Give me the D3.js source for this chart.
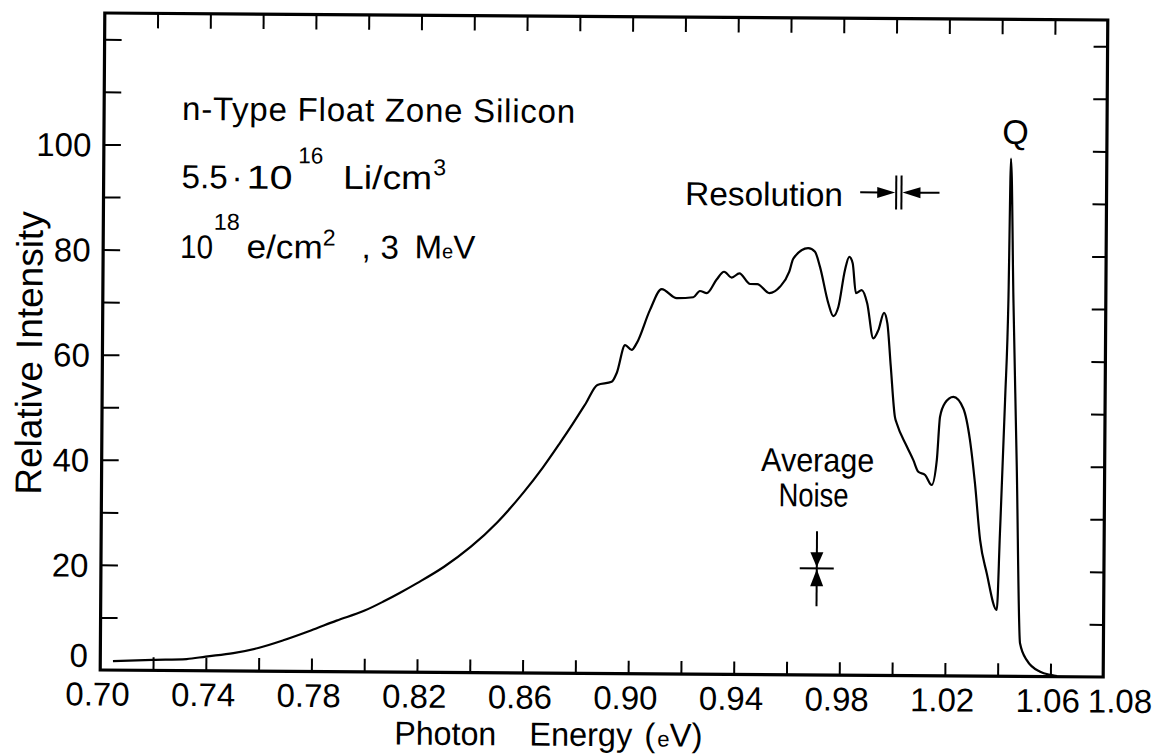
<!DOCTYPE html>
<html><head><meta charset="utf-8">
<script src="https://cdn.jsdelivr.net/npm/d3@7"></script>
<style>
body{margin:0;background:#fff}
text{font-family:"Liberation Sans",Arial,sans-serif;fill:#000}
</style></head>
<body>
<svg id="chart" width="1152" height="756"></svg>
<script>
// ---- data ----
const energy = [0.7048,0.7199,0.7327,0.7399,0.7504,0.7598,0.7693,0.7797,0.7894,0.7998,0.8071,0.8134,0.82,0.83,0.84,0.85,0.86,0.867,0.8733,0.8783,0.8833,0.8876,0.8930,0.8949,0.8980,0.9005,0.9024,0.9073,0.9117,0.9174,0.9237,0.9262,0.9288,0.9325,0.9353,0.9382,0.9411,0.9452,0.9479,0.9525,0.9565,0.9600,0.9615,0.9671,0.9697,0.9716,0.9749,0.9768,0.9787,0.9811,0.9827,0.9840,0.9853,0.9875,0.9896,0.9920,0.9939,0.9960,0.9973,0.9987,1.0004,1.0011,1.0050,1.0075,1.0094,1.0120,1.0145,1.0164,1.0175,1.0193,1.0225,1.0263,1.0289,1.0309,1.0330,1.0356,1.0395,1.0405,1.0421,1.0431,1.0437,1.0450,1.0467,1.0484,1.0510,1.0561,1.0605,1.0625];
const intensity = [1.7,2.0,2.2,2.7,3.4,4.4,5.9,7.8,9.7,11.6,13.4,15.1,17.0,20.1,23.9,28.6,34.4,39.0,43.6,47.4,51.4,54.9,55.5,57.2,62.5,61.6,62.9,69.2,73.2,71.5,71.7,72.9,72.5,75.1,76.6,75.5,76.3,74.3,74.3,72.6,73.8,76.7,79.2,81.2,80.5,77.7,70.7,68.3,70.1,77.1,79.6,78.4,72.7,73.3,70.8,64.1,65.7,69.0,67.0,58.8,49.2,48.0,43.6,41.0,38.8,38.2,36.3,41.1,49.3,51.9,53.1,50.9,44.9,36.7,25.9,19.6,12.6,27.2,52.6,71.6,98.5,71.6,39.9,6.3,3.1,0.9,0.3,0.1];

const xLabelValues = [0.70,0.74,0.78,0.82,0.86,0.90,0.94,0.98,1.02,1.06,1.08];
const xLabelTexts  = ["0.70","0.74","0.78","0.82","0.86","0.90","0.94","0.98","1.02","1.06","1.08"];
const xMinorTicks  = [0.72,0.74,0.76,0.78,0.80,0.82,0.84,0.86,0.88,0.90,0.92,0.94,0.96,0.98,1.00,1.02,1.04,1.06];
const yLabelValues = [0,20,40,60,80,100];
const yMinorTicks  = [10,20,30,40,50,60,70,80,90,100,110,120];
const xDomain = [0.70,1.08];
const yDomain = [0,125];
const noiseMark = {e:0.9712, v:20.3};
const resolutionMark = {e1:1.0003, e2:1.0023, v:91.9};

// ---- layout ----
const svg = d3.select("#chart");
const g = svg.append("g").attr("transform","rotate(0.4,604,345)");
const x = d3.scaleLinear().domain(xDomain).range([102.5,1105.5]);
const y = d3.scaleLinear().domain(yDomain).range([673.5,16.5]);

// ticks (inward)
const bottomAx = g.append("g").attr("transform",`translate(0,${y(0)})`)
  .call(d3.axisBottom(x).tickValues(xMinorTicks).tickSize(-13).tickFormat(""));
const topAx = g.append("g").attr("transform",`translate(0,${y(125)})`)
  .call(d3.axisTop(x).tickValues(xMinorTicks).tickSize(-15).tickFormat(""));
const leftAx = g.append("g").attr("transform",`translate(${x(0.70)},0)`)
  .call(d3.axisLeft(y).tickValues(yMinorTicks).tickSize(-17).tickFormat(""));
const rightAx = g.append("g").attr("transform",`translate(${x(1.08)},0)`)
  .call(d3.axisRight(y).tickValues(yMinorTicks).tickSize(-14).tickFormat(""));
[bottomAx,topAx,leftAx,rightAx].forEach(a=>{
  a.select(".domain").remove();
  a.selectAll(".tick line").attr("stroke","#000").attr("stroke-width",2);
});

// frame
g.append("rect").attr("x",x(0.70)).attr("y",y(125))
  .attr("width",x(1.08)-x(0.70)).attr("height",y(0)-y(125))
  .attr("fill","none").attr("stroke","#000").attr("stroke-width",3.2);

// tick labels
g.selectAll("text.xl").data(xLabelValues).enter().append("text")
  .attr("class","xl")
  .attr("x",(d,i)=>x(d)+(xLabelTexts[i]==="1.08"?17:-2.5))
  .attr("y",709).attr("text-anchor","middle")
  .attr("font-size",33).text((d,i)=>xLabelTexts[i]);
g.selectAll("text.yl").data(yLabelValues).enter().append("text")
  .attr("class","yl")
  .attr("x",90).attr("y",d=>y(d)+(d===0?-15:0)+12)
  .attr("text-anchor","end").attr("font-size",33).text(d=>String(d));

// curve
const pts = energy.map((e,i)=>[e,intensity[i]]);
g.append("path").datum(pts)
  .attr("fill","none").attr("stroke","#000").attr("stroke-width",2.2)
  .attr("stroke-linejoin","round")
  .attr("d",d3.line().x(d=>x(d[0])).y(d=>y(d[1])).curve(d3.curveMonotoneX));

// axis titles
g.append("text").attr("transform","translate(42,357) rotate(-90)")
  .attr("text-anchor","middle").attr("font-size",37)
  .text("Relative").append("tspan").attr("dx",12).text("Intensity");
const xt = g.append("g").attr("font-size",33);
xt.append("text").attr("x",397).attr("y",746).attr("textLength",102).attr("lengthAdjust","spacingAndGlyphs").text("Photon");
xt.append("text").attr("x",532).attr("y",746).attr("textLength",103).attr("lengthAdjust","spacingAndGlyphs").text("Energy");
const ev = xt.append("text").attr("x",647).attr("y",746);
ev.append("tspan").text("(");
ev.append("tspan").attr("font-size",22).attr("dx",2).text("e");
ev.append("tspan").text("V)");

// sample annotation
g.append("text").attr("x",180.5).attr("y",123).attr("font-size",33)
  .attr("textLength",393).attr("lengthAdjust","spacing")
  .text("n-Type Float Zone Silicon");
const fit = (sel,len)=>sel.attr("textLength",len).attr("lengthAdjust","spacingAndGlyphs");
const l2 = g.append("g").attr("font-size",33);
fit(l2.append("text").attr("x",180.5).attr("y",191).text("5.5"),46);
l2.append("text").attr("x",236).attr("y",191).attr("text-anchor","middle").text("·");
fit(l2.append("text").attr("x",245.5).attr("y",191).text("10"),46);
fit(l2.append("text").attr("x",297).attr("y",165.5).attr("font-size",23).text("16"),25);
fit(l2.append("text").attr("x",342).attr("y",190.5).text("Li/cm"),89);
l2.append("text").attr("x",432).attr("y",176.5).attr("font-size",23).text("3");
const l3 = g.append("g").attr("font-size",33);
fit(l3.append("text").attr("x",179.5).attr("y",261).text("10"),33);
fit(l3.append("text").attr("x",213).attr("y",232.5).attr("font-size",23).text("18"),26);
fit(l3.append("text").attr("x",246).attr("y",260.5).text("e/cm"),76);
l3.append("text").attr("x",322).attr("y",247.5).attr("font-size",23).text("2");
l3.append("text").attr("x",361).attr("y",260).text(",");
l3.append("text").attr("x",380).attr("y",260).text("3");
const mev = l3.append("text").attr("x",414).attr("y",259.5);
mev.append("tspan").text("M");
mev.append("tspan").attr("font-size",20).text("e");
mev.append("tspan").text("V");

// Q label
g.append("text").attr("x",1014).attr("y",141).attr("text-anchor","middle")
  .attr("font-size",34).text("Q");

// Resolution marker
const ry = y(resolutionMark.v), rx1 = x(resolutionMark.e1), rx2 = x(resolutionMark.e2);
fit(g.append("text").attr("x",684).attr("y",204.5).attr("font-size",33).text("Resolution"),158);
const res = g.append("g").attr("stroke","#000").attr("stroke-width",2);
res.append("line").attr("x1",rx1).attr("x2",rx1).attr("y1",ry-17).attr("y2",ry+17);
res.append("line").attr("x1",rx2).attr("x2",rx2).attr("y1",ry-17).attr("y2",ry+17);
res.append("line").attr("x1",rx1-36).attr("x2",rx1-16).attr("y1",ry).attr("y2",ry);
res.append("line").attr("x1",rx2+16).attr("x2",rx2+38).attr("y1",ry).attr("y2",ry);
g.append("path").attr("d",`M${rx1-1},${ry} L${rx1-19},${ry-5.5} L${rx1-19},${ry+5.5} Z`);
g.append("path").attr("d",`M${rx2+1},${ry} L${rx2+19},${ry-5.5} L${rx2+19},${ry+5.5} Z`);

// Average noise marker
const nx = x(noiseMark.e), ny = y(noiseMark.v);
fit(g.append("text").attr("x",762).attr("y",470).attr("font-size",33).text("Average"),113);
fit(g.append("text").attr("x",779.5).attr("y",505).attr("font-size",33).text("Noise"),70);
const nm = g.append("g").attr("stroke","#000").attr("stroke-width",2);
nm.append("line").attr("x1",nx).attr("x2",nx).attr("y1",ny-37).attr("y2",ny+38);
nm.append("line").attr("x1",nx-17).attr("x2",nx+17).attr("y1",ny).attr("y2",ny);
g.append("path").attr("d",`M${nx-6.5},${ny-16} L${nx+6.5},${ny-16} L${nx},${ny-1} Z`);
g.append("path").attr("d",`M${nx-6.5},${ny+18} L${nx+6.5},${ny+18} L${nx},${ny+1} Z`);
</script>
</body></html>
